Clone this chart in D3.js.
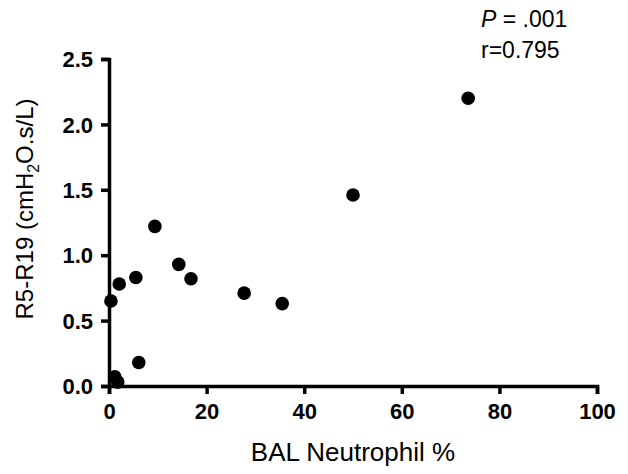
<!DOCTYPE html>
<html>
<head>
<meta charset="utf-8">
<script src="https://cdn.jsdelivr.net/npm/d3@7"></script>
<style>
  body { margin: 0; background: #fff; }
  svg { font-family: "Liberation Sans", Arial, sans-serif; }
</style>
</head>
<body>
<script>
// BAL neutrophil % vs R5-R19
const neutrophil = [0.4, 2.1, 5.5, 9.4, 14.3, 16.8, 27.7, 35.5, 50, 73.6, 6.1, 1.2, 1.8]
const r5r19 = [0.65, 0.78, 0.83, 1.22, 0.93, 0.82, 0.71, 0.63, 1.46, 2.20, 0.18, 0.07, 0.03]
const xTicks = [0, 20, 40, 60, 80, 100]
const yTicks = [0, 0.5, 1.0, 1.5, 2.0, 2.5]

const width = 628, height = 474
const margin = {top: 59, right: 31, bottom: 88, left: 109}

const svg = d3.select('body').append('svg')
  .attr('width', width)
  .attr('height', height)

const x = d3.scaleLinear()
  .domain([0, 100])
  .range([margin.left, width - margin.right])

const y = d3.scaleLinear()
  .domain([0, 2.5])
  .range([height - margin.bottom, margin.top])

// axes
const xAxis = svg.append('g')
  .attr('transform', `translate(0, ${y(0)})`)
  .call(d3.axisBottom(x).tickValues(xTicks).tickSize(8).tickPadding(9).tickFormat(d3.format('d')))
const yAxis = svg.append('g')
  .attr('transform', `translate(${x(0)}, 0)`)
  .call(d3.axisLeft(y).tickValues(yTicks).tickSize(8).tickPadding(8).tickFormat(d3.format('.1f')))

for (const ax of [xAxis, yAxis]) {
  ax.select('.domain').style('stroke', '#000').style('stroke-width', '3.5px')
  ax.selectAll('.tick line').style('stroke', '#000').style('stroke-width', '3.5px')
  ax.selectAll('.tick text')
    .attr('fill', '#000')
    .style('font-size', '22px')
    .style('font-weight', 'bold')
}
yAxis.selectAll('.tick text').attr('dy', '0.35em')

// points
svg.append('g')
  .selectAll('circle')
  .data(neutrophil.map((d, i) => ({x: d, y: r5r19[i]})))
  .enter().append('circle')
  .attr('cx', d => x(d.x))
  .attr('cy', d => y(d.y))
  .attr('r', 6.8)
  .attr('fill', '#000')

// axis titles
svg.append('text')
  .attr('x', (x(0) + x(100)) / 2)
  .attr('y', 461)
  .attr('text-anchor', 'middle')
  .style('font-size', '26px')
  .text('BAL Neutrophil %')

const yTitle = svg.append('text')
  .attr('transform', 'translate(33, 209) rotate(-90)')
  .attr('text-anchor', 'middle')
  .style('font-size', '24px')
yTitle.append('tspan').text('R5-R19 (cmH')
yTitle.append('tspan').attr('dy', 6).style('font-size', '16px').text('2')
yTitle.append('tspan').attr('dy', -6).text('O.s/L)')

// stats annotation
const stat = svg.append('text')
  .attr('x', 481)
  .attr('y', 27)
  .style('font-size', '23px')
stat.append('tspan').style('font-style', 'italic').text('P')
stat.append('tspan').text(' = .001')
svg.append('text')
  .attr('x', 481)
  .attr('y', 58)
  .style('font-size', '23px')
  .text('r=0.795')
</script>
</body>
</html>
